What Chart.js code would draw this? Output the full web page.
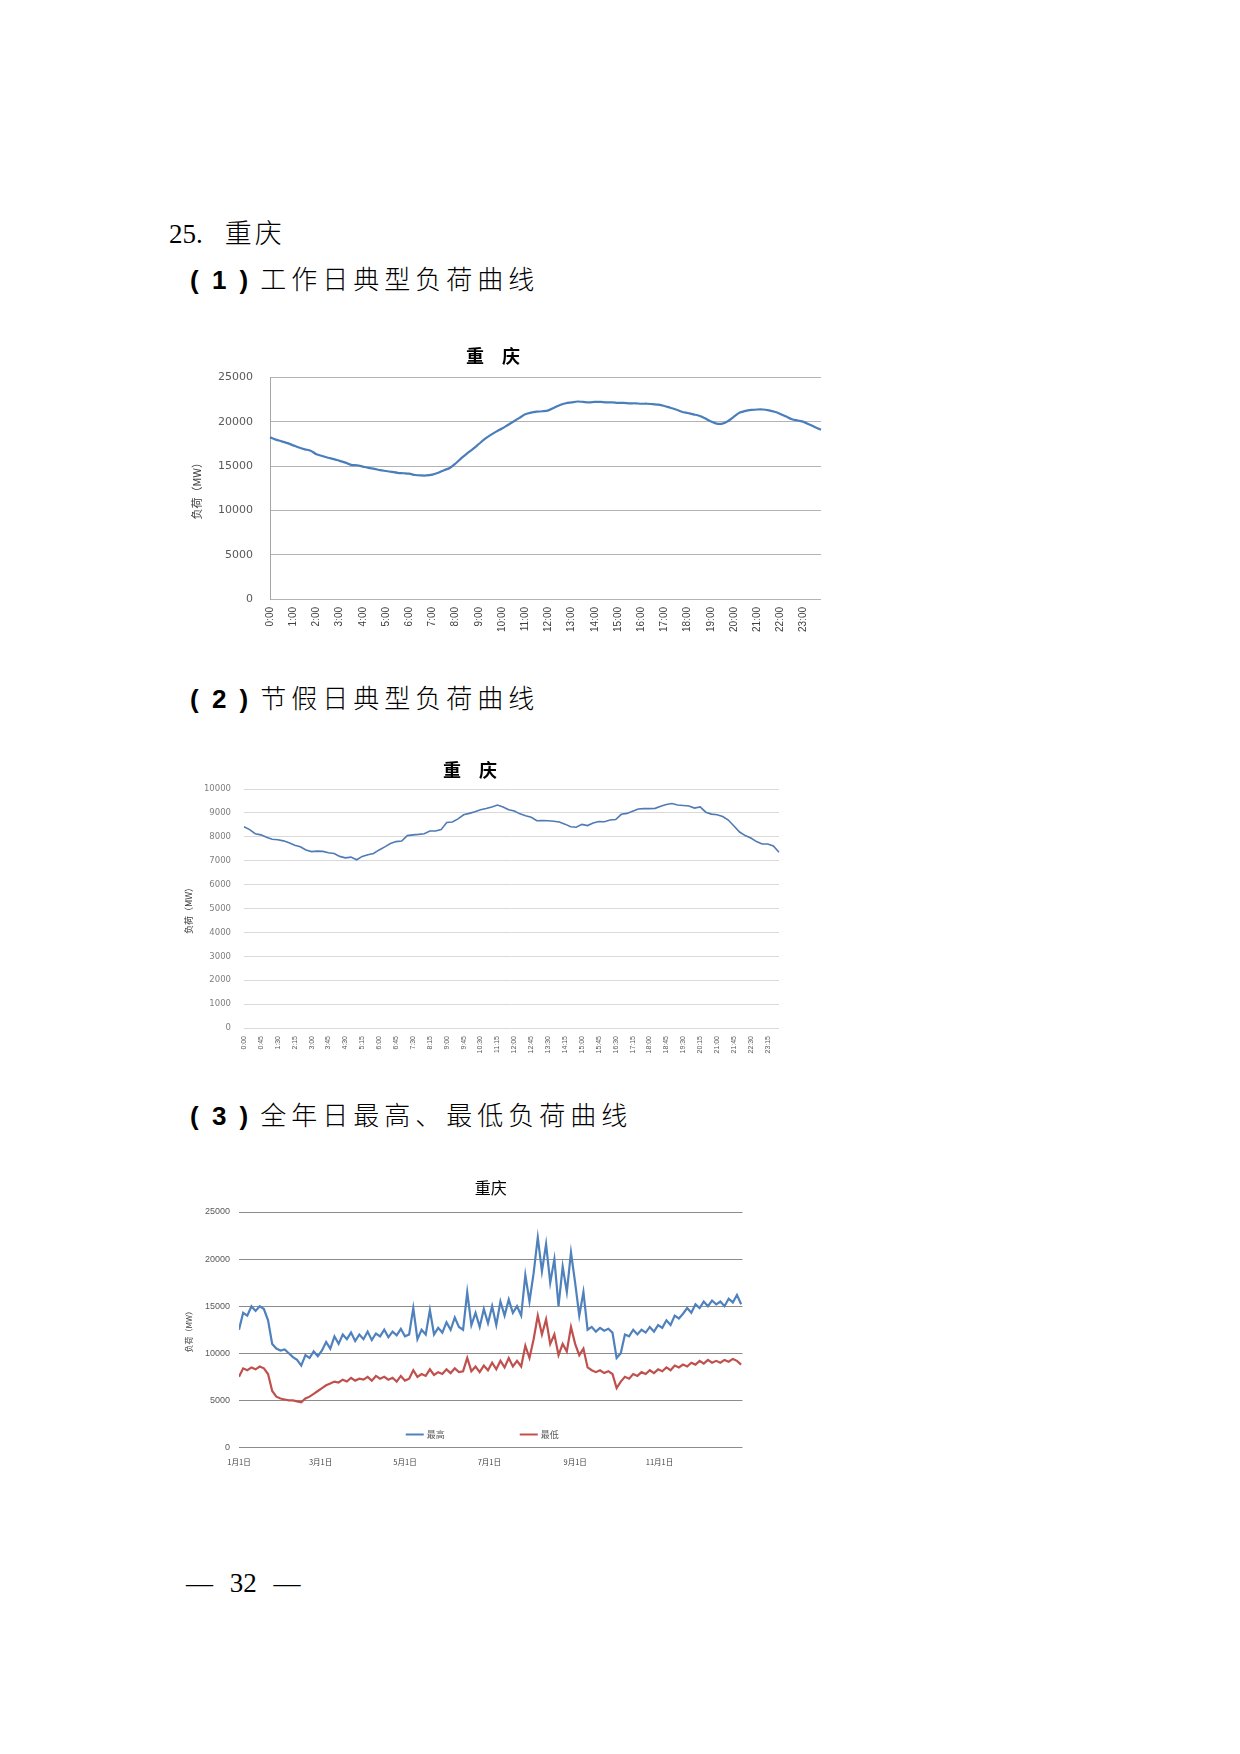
<!DOCTYPE html>
<html lang="zh-CN">
<head>
<meta charset="utf-8">
<title>重庆 负荷曲线</title>
<script src="https://cdn.jsdelivr.net/npm/chart.js@4.4.1/dist/chart.umd.min.js"></script>
<style>
  html, body { margin: 0; padding: 0; background: #fff; }
  .page { position: relative; width: 1240px; height: 1754px; overflow: hidden; background: #fff; }
  .txt { position: absolute; white-space: nowrap; color: #000; }
  .head { left: 169px; top: 216px; font: 27px/32px "Liberation Serif", serif; }
  .head .cn { font-family: "Noto Sans CJK SC"; font-weight: 300; letter-spacing: 3px; margin-left: 22px; }
  .sec { left: 190px; font: 26px/32px "Noto Sans CJK SC"; font-weight: 300; letter-spacing: 5px; }
  .sec .num { font-family: "Liberation Sans"; font-weight: 700; letter-spacing: 3px; margin-right: 9px; }
  .pageno { left: 186px; top: 1567px; font: 27px/32px "Liberation Serif", serif; word-spacing: 10px; }
  canvas { position: absolute; }
</style>
</head>
<body>
<div class="page">
  <div class="txt head">25.<span class="cn">重庆</span></div>
  <div class="txt sec" style="top:262px"><span class="num">( 1 )</span>工作日典型负荷曲线</div>
  <div class="txt sec" style="top:681px"><span class="num">( 2 )</span>节假日典型负荷曲线</div>
  <div class="txt sec" style="top:1098px"><span class="num">( 3 )</span>全年日最高、最低负荷曲线</div>
  <div class="txt pageno">— 32 —</div>

  <canvas id="workday" width="672" height="298" style="left:165px; top:337px"></canvas>
  <canvas id="holiday" width="631" height="302" style="left:161px; top:754px"></canvas>
  <canvas id="yearly" width="585" height="310" style="left:175px; top:1171px"></canvas>
</div>

<script>
// 15-minute time labels, 0:00 ... 23:45
const timeLabels = [];
for (let h = 0; h < 24; h++) {
  for (let m = 0; m < 60; m += 15) timeLabels.push(h + ':' + String(m).padStart(2, '0'));
}

// (1) workday typical load, MW
const workdayLoad = [
  18250, 18000, 17800, 17600, 17350, 17100, 16900, 16750, 16350, 16150,
  15950, 15800, 15600, 15400, 15150, 15100, 14950, 14800, 14700, 14550,
  14450, 14350, 14250, 14200, 14150, 14000, 13950, 13950, 14050, 14250,
  14550, 14800, 15300, 15900, 16450, 16950, 17500, 18050, 18500, 18900,
  19250, 19650, 20050, 20450, 20850, 21050, 21150, 21200, 21300, 21600,
  21900, 22100, 22200, 22300, 22250, 22200, 22250, 22250, 22200, 22200,
  22150, 22150, 22100, 22100, 22050, 22050, 22000, 21950, 21800, 21600,
  21400, 21150, 21000, 20850, 20700, 20400, 20050, 19800, 19800, 20100,
  20600, 21050, 21250, 21350, 21400, 21400, 21300, 21150, 20900, 20600,
  20300, 20150, 20000, 19700, 19400, 19100
];

// (2) holiday typical load, MW
const holidayLoad = [
  8420, 8300, 8130, 8080, 7980, 7900, 7880, 7830, 7750, 7650,
  7580, 7450, 7380, 7400, 7390, 7330, 7300, 7180, 7120, 7150,
  7040, 7180, 7250, 7300, 7450, 7580, 7720, 7800, 7820, 8050,
  8080, 8100, 8130, 8240, 8240, 8300, 8600, 8620, 8750, 8920,
  8980, 9050, 9130, 9180, 9250, 9330, 9250, 9130, 9080, 8960,
  8880, 8820, 8670, 8680, 8670, 8650, 8620, 8530, 8420, 8400,
  8520, 8470, 8580, 8640, 8630, 8700, 8720, 8940, 8980, 9070,
  9160, 9180, 9180, 9190, 9280, 9350, 9390, 9330, 9310, 9290,
  9200, 9250, 9030, 8950, 8920, 8850, 8700, 8450, 8200, 8050,
  7950, 7800, 7700, 7700, 7620, 7350
];

// (3) daily max / min over the year, read every third day
const sampleDays = Array.from({ length: 122 }, (_, i) => i * 3);
const maxLoad = [
  12500, 14300, 14000, 15000, 14500, 15000, 14700, 13500, 11000, 10500,
  10300, 10400, 10000, 9600, 9300, 8700, 9800, 9500, 10200, 9700,
  10300, 11200, 10500, 11800, 11000, 12000, 11500, 12200, 11300, 12000,
  11500, 12300, 11400, 12100, 11800, 12500, 11700, 12300, 11900, 12600,
  11800, 12000, 14800, 11500, 12500, 12000, 14600, 12000, 12700, 12200,
  13300, 12500, 13800, 12800, 12500, 16500, 13000, 14300, 12800, 14700,
  13200, 15000, 13000, 15500, 14000, 15700, 14300, 15000, 14000, 18300,
  15500, 18500, 22300, 18700, 21600, 17500, 20000, 15000, 19200, 16500,
  20700, 17500, 14000, 16500, 12500, 12800, 12300, 12700, 12400, 12600,
  12200, 9500, 10000, 12000, 11800, 12500, 12000, 12500, 12200, 12800,
  12300, 13000, 12700, 13500, 13000, 14000, 13700, 14200, 14800, 14300,
  15200, 14800, 15500, 15000, 15600, 15200, 15500, 15000, 15800, 15400,
  16200, 15200
];
const minLoad = [
  7500, 8400, 8200, 8500, 8300, 8600, 8400, 7800, 6000, 5400,
  5200, 5100, 5000, 5000, 4900, 4800, 5200, 5400, 5700, 6000,
  6300, 6600, 6800, 7000, 6900, 7200, 7000, 7400, 7100, 7300,
  7200, 7500, 7100, 7600, 7300, 7500, 7200, 7400, 7000, 7600,
  7100, 7300, 8200, 7500, 7800, 7600, 8300, 7700, 8000, 7800,
  8300, 7900, 8400, 8000, 8100, 9500, 8100, 8600, 8000, 8700,
  8200, 9000, 8300, 9200, 8500, 9500, 8600, 9200, 8600, 10800,
  9500, 11500, 14000, 12000, 13600, 11000, 12000, 9800, 11000, 10200,
  12800, 11000, 9800, 10500, 8500, 8200, 8000, 8200, 7900, 8100,
  7800, 6300, 7000, 7500, 7300, 7800, 7600, 8000, 7800, 8200,
  7900, 8300, 8100, 8500, 8200, 8700, 8500, 8800, 8600, 9000,
  8800, 9200, 8900, 9300, 9000, 9200, 9000, 9300, 9100, 9400,
  9200, 8800
];
const yearTickDays = [0, 59, 120, 181, 243, 304];
const yearTickNames = ['1月1日', '3月1日', '5月1日', '7月1日', '9月1日', '11月1日'];
const seriesNames = ['最高', '最低'];

Chart.defaults.animation = false;
Chart.defaults.plugins.legend.display = false;
Chart.defaults.plugins.tooltip.enabled = false;
Chart.defaults.elements.point.radius = 0;

const cjk = '"Noto Sans CJK SC"';

// workday chart
new Chart(document.getElementById('workday'), {
  type: 'line',
  data: {
    labels: timeLabels,
    datasets: [{ data: workdayLoad, borderColor: '#4a7ebb', borderWidth: 2.2, tension: 0.3 }]
  },
  options: {
    responsive: false,
    layout: { padding: { left: 0, right: 16, top: 0, bottom: 0 } },
    plugins: {
      title: {
        display: true, text: '重　庆', color: '#000',
        font: { family: cjk, size: 18, weight: 'bold' },
        padding: { top: 8, bottom: 11 }
      }
    },
    scales: {
      x: {
        grid: { display: false }, border: { display: false },
        ticks: {
          autoSkip: false, minRotation: 90, maxRotation: 90, padding: 0,
          color: '#404040', font: { family: 'Liberation Sans', size: 10 },
          callback: function (v, i) { return i % 4 === 0 ? timeLabels[i] : null; }
        },
        afterFit: (s) => { s.height = 36; }
      },
      y: {
        min: 0, max: 25000,
        grid: { color: '#b3b3b3', drawTicks: false },
        border: { display: true, color: '#a6a6a6' },
        ticks: {
          stepSize: 5000, padding: 17, color: '#595959',
          font: { family: 'DejaVu Sans', size: 11 },
          callback: (v) => String(v)
        },
        title: {
          display: true, text: '负荷（MW）', color: '#404040',
          font: { family: cjk, size: 11 }, padding: { top: 25, bottom: 0 }
        },
        afterFit: (s) => { s.width = 105; }
      }
    }
  }
});

// holiday chart
new Chart(document.getElementById('holiday'), {
  type: 'line',
  data: {
    labels: timeLabels,
    datasets: [{ data: holidayLoad, borderColor: '#4f7ab5', borderWidth: 1.6, tension: 0 }]
  },
  options: {
    responsive: false,
    layout: { padding: { left: 0, right: 13, top: 0, bottom: 0 } },
    plugins: {
      title: {
        display: true, text: '重　庆', color: '#000',
        font: { family: cjk, size: 18, weight: 'bold' },
        padding: { top: 5, bottom: 8.4 }
      }
    },
    scales: {
      x: {
        grid: { display: false }, border: { display: false },
        ticks: {
          autoSkip: false, minRotation: 90, maxRotation: 90, padding: 0,
          color: '#595959', font: { family: 'Liberation Sans', size: 7 },
          callback: function (v, i) { return i % 3 === 0 ? timeLabels[i] : null; }
        },
        afterFit: (s) => { s.height = 28; }
      },
      y: {
        min: 0, max: 10000,
        grid: { color: '#d9d9d9', drawTicks: false },
        border: { display: false },
        ticks: {
          stepSize: 1000, padding: 13, color: '#7f7f7f',
          font: { family: 'DejaVu Sans', size: 8.5 },
          callback: (v) => String(v)
        },
        title: {
          display: true, text: '负荷（MW）', color: '#404040',
          font: { family: cjk, size: 9 }, padding: { top: 22, bottom: 0 }
        },
        afterFit: (s) => { s.width = 83; }
      }
    }
  }
});

// legend drawn inside the plot, near its bottom edge
const insideLegend = {
  id: 'insideLegend',
  afterDatasetsDraw(chart) {
    const { ctx, chartArea } = chart;
    const y = chartArea.bottom - 13;
    const cx = (chartArea.left + chartArea.right) / 2;
    const starts = [cx - 85, cx + 29];
    ctx.save();
    ctx.font = '9px ' + cjk;
    ctx.textBaseline = 'middle';
    chart.data.datasets.forEach((ds, i) => {
      const x = starts[i];
      ctx.strokeStyle = ds.borderColor;
      ctx.lineWidth = 2;
      ctx.beginPath();
      ctx.moveTo(x, y);
      ctx.lineTo(x + 18, y);
      ctx.stroke();
      ctx.fillStyle = '#595959';
      ctx.fillText(ds.label, x + 21, y);
    });
    ctx.restore();
  }
};

// yearly max/min chart
new Chart(document.getElementById('yearly'), {
  type: 'line',
  data: {
    datasets: [
      { label: seriesNames[0], data: maxLoad.map((v, i) => ({ x: sampleDays[i], y: v })),
        borderColor: '#4f81bd', borderWidth: 2.2, tension: 0 },
      { label: seriesNames[1], data: minLoad.map((v, i) => ({ x: sampleDays[i], y: v })),
        borderColor: '#c0504d', borderWidth: 2.2, tension: 0 }
    ]
  },
  options: {
    responsive: false,
    layout: { padding: { left: 0, right: 17.5, top: 0, bottom: 0 } },
    plugins: {
      title: {
        display: true, text: '重庆', color: '#000', fullSize: false,
        font: { family: cjk, size: 16, weight: 'normal' },
        padding: { top: 7.5, bottom: 14.3 }
      }
    },
    scales: {
      x: {
        type: 'linear', min: 0, max: 364,
        grid: { display: false }, border: { display: false },
        afterBuildTicks: (s) => { s.ticks = yearTickDays.map((d) => ({ value: d })); },
        ticks: {
          maxRotation: 0, padding: 2, color: '#404040',
          font: { family: cjk, size: 7.5 },
          callback: (v) => yearTickNames[yearTickDays.indexOf(v)]
        },
        afterFit: (s) => { s.height = 33.5; }
      },
      y: {
        min: 0, max: 25000,
        grid: { color: '#8c8c8c', drawTicks: false },
        border: { display: false },
        ticks: {
          stepSize: 5000, padding: 9, color: '#595959',
          font: { family: 'Liberation Sans', size: 9 },
          callback: (v) => String(v)
        },
        title: {
          display: true, text: '负荷（MW）', color: '#404040',
          font: { family: cjk, size: 8 }, padding: { top: 9, bottom: 0 }
        },
        afterFit: (s) => { s.width = 64; }
      }
    }
  },
  plugins: [insideLegend]
});
</script>
</body>
</html>
